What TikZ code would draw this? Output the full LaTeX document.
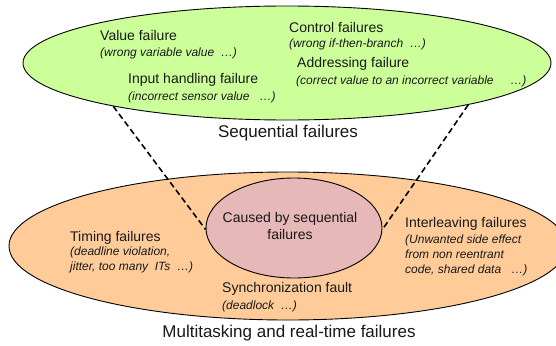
\documentclass[tikz,border=0pt]{standalone}
\usepackage{fontspec}
\setmainfont{Liberation Sans}
\usetikzlibrary{shapes.geometric}
\definecolor{seqgreen}{RGB}{204,255,153}
\definecolor{mtorange}{RGB}{255,204,153}
\definecolor{causepink}{RGB}{230,184,183}
\definecolor{txt}{RGB}{25,25,25}
\tikzset{
  blob/.style={ellipse, draw=black, line width=0.9pt, inner sep=0},
  ttl/.style={font=\fontsize{14}{16}\selectfont, anchor=west, inner sep=0, text=txt},
  sub/.style={font=\fontsize{12}{14.6}\selectfont\itshape, anchor=west, inner sep=0, align=left, text=txt},
  biglabel/.style={font=\fontsize{17}{20}\selectfont, inner sep=0, text=txt},
  link/.style={draw=black, line width=1.6pt, dash pattern=on 6pt off 3.5pt}
}
\begin{document}
\begin{tikzpicture}[x=1pt,y=-1pt]
\clip (0,0) rectangle (556,345);
\fill[white] (0,0) rectangle (556,345);
% ellipses
\node[blob, fill=mtorange, minimum width=558, minimum height=148] (mt) at (288,246) {};
\node[blob, fill=causepink, minimum width=176, minimum height=100] (cause) at (294,228) {};
\node[blob, fill=seqgreen, minimum width=528, minimum height=114] (seq) at (287,63) {};
% dashed connectors
\draw[link] (seq.194.8) -- (cause.181);
\draw[link] (seq.-13.7) -- (cause.-1);
% top texts
\node[ttl] (vf) at (100,35) {Value failure};
\node[sub] (vfs) at (100,53) {(wrong variable value \ …)};
\node[ttl] (ih) at (128,80) {Input handling failure};
\node[sub] (ihs) at (128,97) {(incorrect sensor value \ \ …)};
\node[ttl] (cf) at (289,27) {Control failures};
\node[sub] (cfs) at (289,44) {(wrong if-then-branch \ …)};
\node[ttl] (af) at (297,64) {Addressing failure};
\node[sub] (afs) at (296,81) {(correct value to an incorrect variable \ \ \ \ …)};
\node[biglabel] (seql) at (288,133) {Sequential failures};
% bottom texts
\node[font=\fontsize{14}{17}\selectfont, inner sep=0, align=center, text=txt] (causet) at (290,226) {Caused by sequential\\ failures};
\node[ttl] (tf) at (70,238) {Timing failures};
\node[sub, anchor=north west] (tfs) at (70,247) {(deadline violation,\\jitter, too many \ ITs \ …)};
\node[ttl] (il) at (405,224) {Interleaving failures};
\node[sub, anchor=north west] (ils) at (405,235) {(Unwanted side effect\\from non reentrant\\code, shared data \ \ …)};
\node[ttl] (sf) at (222,289) {Synchronization fault};
\node[sub] (sfs) at (222,306) {(deadlock \ …)};
\node[biglabel] (mtl) at (289,333) {Multitasking and real-time failures};
\end{tikzpicture}
\end{document}
